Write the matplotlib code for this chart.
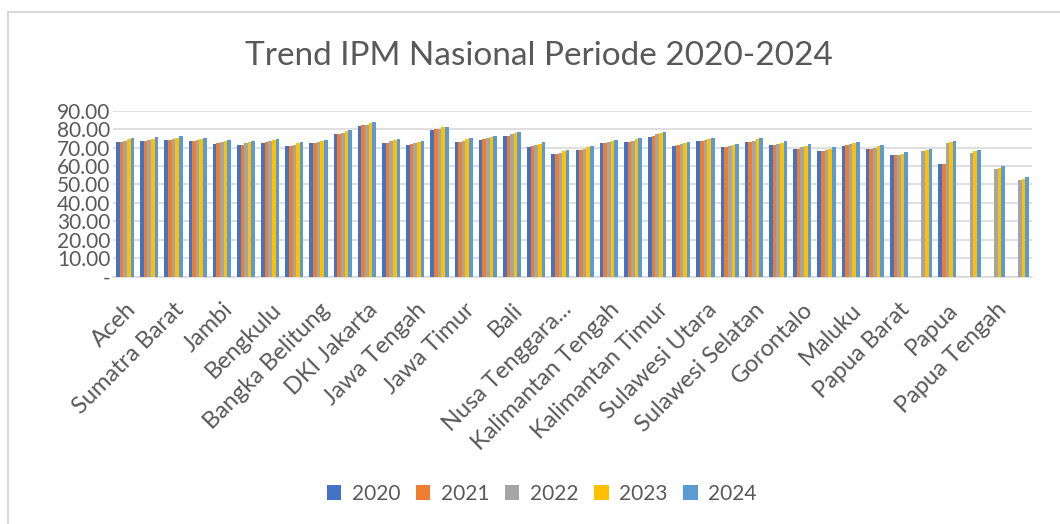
import matplotlib.pyplot as plt
import numpy as np
from matplotlib.lines import Line2D

plt.rcParams['font.family'] = ['Lato', 'DejaVu Sans']
font_color = '#595959'
colors = ['#4472C4', '#ED7D31', '#A5A5A5', '#FFC000', '#5B9BD5']

years = ['2020', '2021', '2022', '2023', '2024']
provinces = ['Aceh', 'Sumatera Utara', 'Sumatra Barat', 'Riau', 'Jambi',
             'Sumatera Selatan', 'Bengkulu', 'Lampung', 'Bangka Belitung',
             'Kepulauan Riau', 'DKI Jakarta', 'Jawa Barat', 'Jawa Tengah',
             'DI Yogyakarta', 'Jawa Timur', 'Banten', 'Bali',
             'Nusa Tenggara Barat', 'Nusa Tenggara...', 'Kalimantan Barat',
             'Kalimantan Tengah', 'Kalimantan Selatan', 'Kalimantan Timur',
             'Kalimantan Utara', 'Sulawesi Utara', 'Sulawesi Tengah',
             'Sulawesi Selatan', 'Sulawesi Tenggara', 'Gorontalo',
             'Sulawesi Barat', 'Maluku', 'Maluku Utara', 'Papua Barat',
             'Papua Barat Daya', 'Papua', 'Papua Selatan', 'Papua Tengah',
             'Papua Pegunungan']

nan = np.nan
ipm_2020 = [73.1, 73.6, 74.1, 73.6, 72.0, 71.4, 72.5, 70.9, 72.5, 77.4, 81.7,
            72.5, 71.4, 79.6, 73.1, 74.1, 76.3, 70.3, 66.5, 68.7, 72.5, 73.1,
            75.8, 70.9, 73.6, 70.3, 73.1, 71.4, 69.3, 68.2, 70.9, 69.3, 66.0,
            nan, 61.1, nan, nan, nan]
ipm_2021 = [73.1, 73.6, 74.1, 73.6, 72.5, 71.4, 73.1, 70.9, 72.5, 77.4, 82.3,
            72.5, 72.0, 80.1, 73.1, 74.7, 76.3, 70.9, 66.5, 68.7, 72.5, 73.1,
            76.3, 71.4, 73.6, 70.3, 73.1, 71.4, 69.3, 68.2, 71.4, 69.3, 66.0,
            nan, 61.1, nan, nan, nan]
ipm_2022 = [73.6, 74.1, 74.7, 74.1, 73.1, 72.5, 73.6, 71.4, 73.1, 77.9, 82.3,
            73.6, 72.5, 80.1, 73.6, 75.2, 77.4, 71.4, 67.1, 69.3, 73.1, 73.6,
            77.4, 72.0, 74.1, 70.9, 73.6, 72.0, 70.3, 68.7, 72.0, 69.8, 66.0,
            68.2, 72.5, 67.1, 58.4, 52.4]
ipm_2023 = [74.7, 74.7, 75.2, 74.7, 73.6, 73.1, 74.1, 72.5, 73.6, 79.0, 83.4,
            74.1, 73.1, 81.2, 74.7, 75.8, 77.9, 72.0, 68.2, 70.3, 73.6, 74.7,
            77.9, 72.5, 74.7, 71.4, 74.7, 72.5, 70.9, 69.3, 72.5, 70.9, 66.5,
            68.7, 73.1, 68.2, 59.0, 53.0]
ipm_2024 = [75.2, 75.8, 76.3, 75.2, 74.1, 73.6, 74.7, 73.1, 74.1, 79.6, 83.9,
            74.7, 73.6, 81.2, 75.2, 76.3, 78.5, 73.1, 68.7, 70.9, 74.1, 75.2,
            78.5, 73.1, 75.2, 72.0, 75.2, 73.6, 72.0, 70.3, 73.1, 71.4, 67.6,
            69.3, 73.6, 68.7, 60.0, 54.1]
series = [ipm_2020, ipm_2021, ipm_2022, ipm_2023, ipm_2024]

fig = plt.figure(figsize=(10.6, 5.24), dpi=100)
ax = fig.add_axes([0.1066, 0.472, 0.867, 0.3168])

x = np.arange(len(provinces))
w = 0.15
for i, vals in enumerate(series):
    ax.bar(x + (i - 2) * w, vals, width=w, color=colors[i], label=years[i], zorder=3)

ax.set_ylim(0, 90)
ax.set_xlim(-0.5, len(provinces) - 0.5)
ax.set_yticks(np.arange(0, 91, 10))
ax.set_yticklabels(['-'] + ['%.2f' % v for v in range(10, 91, 10)])
ax.yaxis.grid(True, color='#D9D9D9', linewidth=1.2, zorder=0)
ax.tick_params(axis='y', length=0, labelsize=15, colors=font_color, pad=2)
ax.tick_params(axis='x', length=0, labelsize=17, colors=font_color, pad=16)

ax.set_xticks(x[::2])
ax.set_xticklabels(provinces[::2], rotation=45, ha='right', rotation_mode='anchor')

for s in ['top', 'right', 'left']:
    ax.spines[s].set_visible(False)
ax.spines['bottom'].set_color('#D9D9D9')
ax.spines['bottom'].set_linewidth(1.2)

fig.suptitle('Trend IPM Nasional Periode 2020-2024', x=0.508, y=0.922, fontsize=24, color=font_color)

legend = fig.legend(loc='center', bbox_to_anchor=(0.511, 0.058), ncol=5, frameon=False,
                    handlelength=0.7, handleheight=0.7, handletextpad=0.5,
                    columnspacing=0.75, prop={'size': 15})
for text in legend.get_texts():
    text.set_color(font_color)

# chart border (screenshot shows top and left edges only)
fig.add_artist(Line2D([8 / 1060, 1], [1 - 12 / 524, 1 - 12 / 524], color='#D9D9D9', lw=1.5))
fig.add_artist(Line2D([8 / 1060, 8 / 1060], [0, 1 - 12 / 524], color='#D9D9D9', lw=1.5))

plt.savefig('out.png', dpi=100)
